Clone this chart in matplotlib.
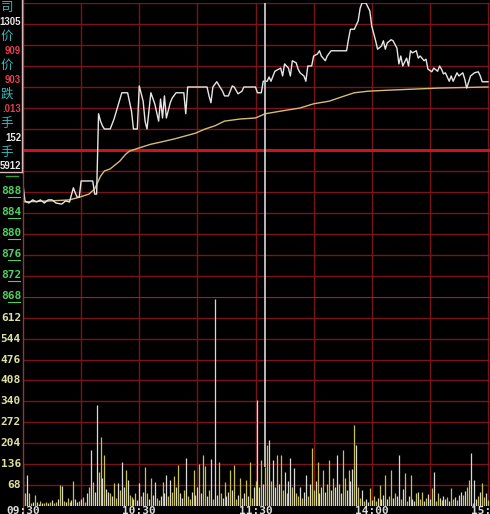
import numpy as np
import matplotlib
matplotlib.use("Agg")
import matplotlib.pyplot as plt

# 分时价格 (分钟, 价格)
price_min = [0, 1, 3, 5, 7, 9, 11, 13, 15, 17, 20, 22, 24, 26, 27, 28, 29, 30, 36, 37,
             38, 39, 40, 41, 42, 45, 47, 49, 51, 54, 56, 57, 59, 60, 62, 63, 64, 66, 68, 70,
             71, 72, 73, 74, 76, 77, 79, 83, 84, 85, 95, 96, 97, 98, 100, 103, 104, 106, 108, 109,
             111, 113, 114, 120, 121, 123, 124, 126, 127, 128, 130, 133, 134, 135, 137, 138, 139, 141, 142, 143,
             145, 146, 147, 149, 150, 152, 153, 154, 156, 157, 159, 167, 168, 169, 171, 173, 174, 175, 177, 179,
             180, 182, 183, 185, 186, 187, 188, 190, 191, 193, 194, 195, 196, 198, 199, 200, 201, 203, 204, 205,
             207, 208, 209, 211, 212, 214, 215, 216, 217, 218, 220, 221, 222, 224, 225, 227, 228, 229, 231, 233,
             235, 236, 237, 240]
price_val = [889.5, 886.3, 885.9, 886.5, 886.1, 886.5, 885.9, 886.5, 886.5, 885.9, 885.7, 886.3, 886.1, 888.8, 887.8, 887.0, 887.0, 890.1, 890.1, 887.6,
             887.6, 902.9, 901.5, 900.6, 900.0, 900.0, 901.9, 904.4, 906.9, 906.9, 903.4, 900.0, 900.0, 908.2, 905.3, 901.5, 900.0, 906.9, 904.8, 901.5,
             905.7, 902.1, 906.3, 902.1, 905.0, 905.9, 906.9, 906.9, 902.9, 908.0, 908.0, 906.3, 905.0, 908.0, 909.0, 907.2, 906.3, 906.3, 908.2, 908.0,
             906.7, 907.2, 908.0, 908.0, 906.9, 906.9, 909.1, 909.1, 909.9, 909.1, 911.0, 911.6, 910.1, 912.4, 911.6, 910.1, 913.0, 912.6, 911.4, 910.7,
             910.1, 909.1, 912.0, 912.0, 913.9, 914.3, 914.9, 913.9, 913.0, 913.9, 914.9, 914.9, 917.1, 919.0, 919.0, 920.6, 923.0, 924.0, 924.0, 922.5,
             919.6, 916.8, 915.2, 915.8, 916.8, 915.2, 916.4, 917.0, 916.8, 915.4, 912.4, 913.9, 912.0, 913.5, 912.0, 914.9, 914.5, 914.9, 913.5, 913.9,
             913.0, 913.3, 911.4, 910.9, 911.6, 911.0, 912.0, 911.4, 910.5, 910.7, 909.1, 910.1, 909.1, 910.7, 910.1, 910.7, 909.5, 907.8, 910.1, 910.7,
             910.9, 910.1, 909.0, 909.0]

# 均价线
avg_min = [0, 14, 24, 29, 34, 37, 40, 42, 45, 47, 50, 53, 55, 60, 66, 71, 78, 84, 89, 94,
           99, 104, 112, 120, 125, 133, 143, 150, 158, 166, 171, 178, 189, 215, 240]
avg_val = [886.1, 886.3, 886.5, 887.0, 887.6, 888.6, 891.0, 892.0, 892.4, 893.0, 893.9, 895.2, 895.8, 896.4, 897.1, 897.5, 898.1, 898.7, 899.2, 900.0,
           900.6, 901.5, 901.9, 902.1, 902.9, 903.4, 904.0, 904.8, 905.3, 906.3, 906.9, 907.2, 907.4, 907.8, 908.0]

# 成交量 (每分钟)
volume = [132, 40, 99, 41, 8, 12, 34, 10, 6, 14, 9, 8, 12, 7, 10, 18, 9, 12, 20, 67,
          64, 15, 10, 24, 12, 18, 80, 20, 11, 15, 22, 28, 12, 40, 60, 181, 77, 45, 328, 110,
          223, 90, 165, 55, 44, 41, 30, 73, 25, 73, 50, 142, 60, 116, 83, 35, 28, 20, 40, 18,
          73, 30, 45, 126, 40, 20, 90, 35, 77, 25, 18, 30, 77, 40, 99, 30, 83, 45, 96, 60,
          132, 40, 25, 50, 155, 30, 20, 45, 116, 35, 60, 135, 40, 165, 129, 30, 50, 152, 20, 674,
          35, 142, 40, 25, 77, 30, 45, 116, 50, 132, 20, 35, 90, 25, 40, 83, 30, 142, 25, 60,
          80, 344, 60, 148, 70, 126, 197, 214, 80, 148, 60, 165, 70, 165, 50, 109, 40, 80, 155, 60,
          122, 40, 30, 60, 25, 45, 99, 30, 70, 188, 50, 80, 142, 40, 60, 116, 45, 70, 148, 50,
          90, 60, 165, 70, 40, 181, 90, 50, 116, 80, 120, 263, 197, 60, 25, 51, 15, 20, 12, 57,
          18, 30, 15, 25, 67, 20, 35, 99, 20, 30, 116, 25, 40, 30, 165, 20, 54, 106, 15, 30,
          99, 20, 15, 41, 44, 20, 44, 15, 25, 38, 20, 57, 109, 15, 41, 25, 18, 30, 20, 28,
          15, 57, 20, 28, 18, 35, 45, 34, 47, 60, 83, 171, 8, 83, 20, 30, 45, 73, 28, 40,
          18]
# 1 = 白色柱, 0 = 黄色柱
vol_white = ("10100101101001010010"
             "10100101101001010110"
             "01011010010110100101"
             "10100101100101101001"
             "01101001011010010101"
             "10010110100101101001"
             "01101001011010010110"
             "10010110100101101001"
             "01101001011010010110"
             "10010110100101101001"
             "01101001011010010110"
             "10010110100101101001"
             "0")

price_ticks = [888, 884, 880, 876, 872, 868]
vol_ticks = [612, 544, 476, 408, 340, 272, 204, 136, 68]
time_labels = ["09:30", "10:30", "11:30", "14:00"]
time_pos = [0, 60, 120, 180]

info_names = ["司", "价", "价", "跌", "手", "手"]
info_nums = ["1305", "909", "903", ".013", "152", "5912"]
info_colors = ["#e8e8e8", "#e04050", "#e04050", "#e04050", "#e8e8e8", "#e8e8e8"]

W, H = 490, 514
fig = plt.figure(figsize=(W / 100, H / 100), dpi=100, facecolor="black")

def box(x0, y0, x1, y1):
    return [x0 / W, 1 - y1 / H, (x1 - x0) / W, (y1 - y0) / H]

xmax = 240 * (W - 23) / 465
ax = fig.add_axes(box(23, 3, W, 297))
axv = fig.add_axes(box(23, 297, W, 505.5))
grid_c = "#7a1418"
for a in (ax, axv):
    a.set_facecolor("black")
    a.set_xlim(0, xmax)
    for s in a.spines.values():
        s.set_visible(False)
    a.set_xticks([])
    a.set_yticks([])
    for m in range(30, 241, 30):
        a.axvline(m, color=grid_c, lw=1.0, zorder=1)

ax.set_ylim(868, 924)
for p in range(872, 925, 4):
    ax.axhline(p, color=grid_c, lw=1.0, zorder=1)
ax.axhline(896, color="#c8141c", lw=2.2, zorder=1)

axv.set_ylim(0, 680)
for v in range(68, 680, 68):
    axv.axhline(v, color=grid_c, lw=1.0, zorder=1)
axv.axhline(680, color="#b01820", lw=1.6, zorder=1)

# 价格线和均价线
ax.plot(price_min, price_val, color="#e6e6e6", lw=1.0, zorder=4)
ax.plot(avg_min, avg_val, color="#d2bc78", lw=1.0, zorder=3)

# 成交量柱
mins = np.arange(len(volume))
cols = ["#d8d8d8" if c == "1" else "#c8c050" for c in vol_white[:len(volume)]]
axv.vlines(mins, 0, volume, colors=cols, lw=0.9, zorder=3)

# 十字光标竖线
ax.axvline(124.9, color="#c8c8c8", lw=1.3, zorder=5)
axv.vlines(124.9, 126, 680, color="#c8c8c8", lw=1.3, zorder=5)

# 左侧竖线
fig.add_artist(plt.Line2D([22.5 / W, 22.5 / W], [0, 1], color="#8a3a3a", lw=1.0))

# 坐标刻度文字
mono = dict(family="DejaVu Sans Mono", fontweight="bold", fontsize=8, ha="right", va="center")
for p in price_ticks:
    y = 149 + (896 - p) * 5.25
    fig.text(21 / W, 1 - y / H, str(p), color="#50d060", **mono)
    fig.add_artist(plt.Line2D([8 / W, 20 / W], [1 - (y + 5.5) / H] * 2, color="#50d060", lw=0.8))
for v in vol_ticks:
    y = 505.5 - v * 208.5 / 680
    fig.text(21 / W, 1 - y / H, str(v), color="#e0e0a0", **mono)

for lab, m in zip(time_labels, time_pos):
    x = 23 + m * 1.9375
    fig.text(x / W, 1 - 513.5 / H, lab, color="#dcdcdc", fontsize=8, fontweight="bold",
             family="DejaVu Sans Mono", ha="center", va="baseline")
fig.text(471 / W, 1 - 513.5 / H, "15:", color="#dcdcdc", fontsize=8, fontweight="bold",
         family="DejaVu Sans Mono", ha="left", va="baseline")

# 左上信息栏
small = dict(family="Liberation Sans", fontweight="bold", fontsize=6.9, ha="right", va="center")
for i, (nm, num, c) in enumerate(zip(info_names, info_nums, info_colors)):
    y1 = 8 + i * 28.8
    y2 = y1 + 14.4
    fig.text(0.5 / W, 1 - y1 / H, nm, color="#38b8b8", fontsize=9,
             family=["Noto Sans CJK SC", "DejaVu Sans"], ha="left", va="center")
    fig.text(21 / W, 1 - y2 / H, num, color=c, **small)
fig.add_artist(plt.Line2D([21.5 / W, 21.5 / W], [1, 1 - 172 / H], color="#d8b8b8", lw=1.0))
fig.add_artist(plt.Line2D([0, 21.5 / W], [1 - 172 / H, 1 - 172 / H], color="#d8b8b8", lw=1.0))
fig.add_artist(plt.Line2D([6 / W, 18 / W], [1 - 176 / H, 1 - 176 / H], color="#30a040", lw=1.0))

fig.savefig("out.png", dpi=100, facecolor="black")
